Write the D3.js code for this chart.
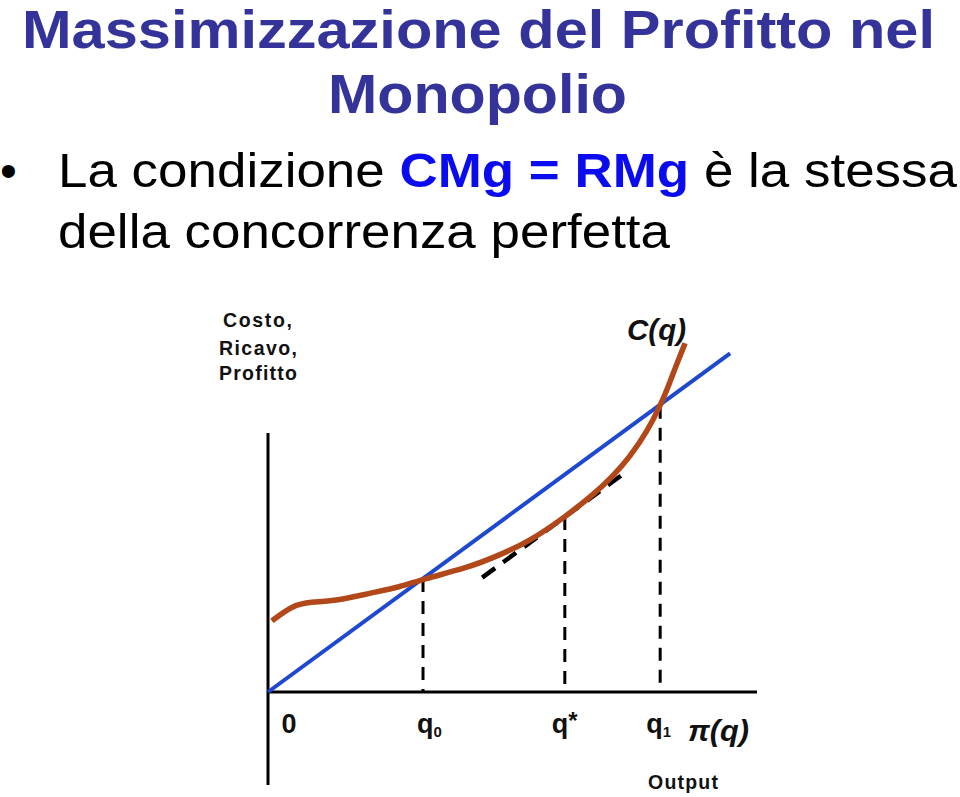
<!DOCTYPE html>
<html>
<head>
<meta charset="utf-8">
<script src="https://cdn.jsdelivr.net/npm/d3@7"></script>
<style>
  html, body { margin: 0; padding: 0; background: #ffffff; }
  svg { display: block; }
</style>
</head>
<body>
<div id="chart"></div>
<script>
// ---------- data ----------
const titleLines = ["Massimizzazione del Profitto nel", "Monopolio"];
const bulletParts = ["La condizione ", "CMg = RMg", " è la stessa"];
const bulletLine2 = "della concorrenza perfetta";
const yAxisLabel = ["Costo,", "Ricavo,", "Profitto"];

// cost curve C(q)
const costQ = [0.08, 0.51, 0.86, 1.41, 2.09, 2.70, 3.17, 4.07, 4.74, 5.36, 6.07, 6.65, 7.06, 7.40, 7.75, 8.02, 8.18, 8.36, 8.53];
const costC = [2.02, 2.47, 2.56, 2.59, 2.81, 2.98, 3.21, 3.52, 3.89, 4.29, 4.97, 5.60, 6.14, 6.68, 7.39, 8.13, 8.66, 9.32, 9.91];
// revenue line R(q)
const revQ = [0.0, 9.45];
const revR = [0.0, 9.62];
// tangent to cost at q*
const tanQ = [4.38, 7.36];
const tanV = [3.25, 6.29];
// marked quantities
const markNames = ["q0", "q*", "q1"];
const markQ = [3.17, 6.07, 8.02];
const markTop = [3.21, 4.97, 8.13];

// ---------- drawing ----------
const W = 960, H = 797;
const svg = d3.select("#chart").append("svg").attr("width", W).attr("height", H);

const x = d3.scaleLinear().domain([0, 10]).range([268, 757]);
const y = d3.scaleLinear().domain([0, 10]).range([692, 340]);

const narrow = "'Liberation Sans Narrow', 'Arial Narrow', 'Liberation Sans', Arial, sans-serif";
const sans = "'Liberation Sans', Arial, Helvetica, sans-serif";

// title
svg.append("text").attr("x", 22).attr("y", 48)
  .attr("font-family", narrow).attr("font-weight", "bold").attr("font-size", 54)
  .attr("fill", "#333399").attr("textLength", 913).attr("lengthAdjust", "spacingAndGlyphs")
  .text(titleLines[0]);
svg.append("text").attr("x", 328).attr("y", 113)
  .attr("font-family", narrow).attr("font-weight", "bold").attr("font-size", 56)
  .attr("fill", "#333399").attr("textLength", 299).attr("lengthAdjust", "spacingAndGlyphs")
  .text(titleLines[1]);

// bullet
svg.append("text").attr("x", 0).attr("y", 187)
  .attr("font-family", sans).attr("font-size", 48).attr("fill", "#000")
  .text("•");
const b1 = svg.append("text").attr("x", 58).attr("y", 187)
  .attr("font-family", narrow).attr("font-size", 49).attr("fill", "#000")
  .attr("textLength", 899).attr("lengthAdjust", "spacingAndGlyphs");
b1.append("tspan").text(bulletParts[0]);
b1.append("tspan").attr("font-weight", "bold").attr("fill", "#0b0bf0").text(bulletParts[1]);
b1.append("tspan").text(bulletParts[2]);
svg.append("text").attr("x", 58).attr("y", 248)
  .attr("font-family", narrow).attr("font-size", 49).attr("fill", "#000")
  .attr("textLength", 612).attr("lengthAdjust", "spacingAndGlyphs")
  .text(bulletLine2);

// y axis label
const ylX = [223, 219, 219];
const ylY = [327, 355, 380];
const ylW = [69, 78, 78];
yAxisLabel.forEach((t, i) => {
  svg.append("text").attr("x", ylX[i]).attr("y", ylY[i])
    .attr("font-family", sans).attr("font-weight", "bold").attr("font-size", 19.5).attr("fill", "#111")
    .attr("textLength", ylW[i]).attr("lengthAdjust", "spacing")
    .text(t);
});

// axes
svg.append("line").attr("x1", x(0)).attr("x2", x(0)).attr("y1", y(7.36)).attr("y2", y(-2.64))
  .attr("stroke", "#000").attr("stroke-width", 3);
svg.append("line").attr("x1", x(0)).attr("x2", x(10)).attr("y1", y(0)).attr("y2", y(0))
  .attr("stroke", "#000").attr("stroke-width", 3);

// vertical dashed lines
svg.selectAll("line.mark").data(markQ).join("line").attr("class", "mark")
  .attr("x1", d => x(d)).attr("x2", d => x(d))
  .attr("y1", (d, i) => y(markTop[i])).attr("y2", y(0))
  .attr("stroke", "#000").attr("stroke-width", 3).attr("stroke-dasharray", "13,9");

// tangent dashed line
svg.append("line").attr("x1", x(tanQ[0])).attr("y1", y(tanV[0]))
  .attr("x2", x(tanQ[1])).attr("y2", y(tanV[1]))
  .attr("stroke", "#000").attr("stroke-width", 4.5).attr("stroke-dasharray", "16,10");

// revenue line
svg.append("path").datum(revQ.map((q, i) => [q, revR[i]]))
  .attr("d", d3.line().x(d => x(d[0])).y(d => y(d[1])))
  .attr("fill", "none").attr("stroke", "#1f48d0").attr("stroke-width", 4);

// cost curve
svg.append("path").datum(costQ.map((q, i) => [q, costC[i]]))
  .attr("d", d3.line().curve(d3.curveBasis).x(d => x(d[0])).y(d => y(d[1])))
  .attr("fill", "none").attr("stroke", "#b2481a").attr("stroke-width", 5.5).attr("stroke-linecap", "butt");

// labels
svg.append("text").attr("x", 627).attr("y", 340)
  .attr("font-family", sans).attr("font-weight", "bold").attr("font-style", "italic")
  .attr("font-size", 30).attr("fill", "#111")
  .attr("textLength", 59).attr("lengthAdjust", "spacingAndGlyphs").text("C(q)");

const lblY = 733;
svg.append("text").attr("x", x(0) + 21).attr("y", lblY).attr("text-anchor", "middle")
  .attr("font-family", sans).attr("font-weight", "bold").attr("font-size", 27).attr("fill", "#111").text("0");

function qLabel(xpos, sub, star) {
  const t = svg.append("text").attr("x", xpos).attr("y", lblY)
    .attr("font-family", sans).attr("font-weight", "bold").attr("font-size", 27).attr("fill", "#111");
  t.append("tspan").text("q");
  if (star) t.append("tspan").attr("dy", -4).attr("font-size", 24).text("*");
  if (sub) t.append("tspan").attr("dy", 4).attr("font-size", 15).text(sub);
}
qLabel(x(markQ[0]) - 6, "0", false);
qLabel(x(markQ[1]) - 13, null, true);
qLabel(x(markQ[2]) - 14, "1", false);

svg.append("text").attr("x", 688).attr("y", 741)
  .attr("font-family", sans).attr("font-weight", "bold").attr("font-style", "italic")
  .attr("font-size", 30).attr("fill", "#111")
  .attr("textLength", 61).attr("lengthAdjust", "spacingAndGlyphs").text("π(q)");

svg.append("text").attr("x", 648).attr("y", 789)
  .attr("font-family", sans).attr("font-weight", "bold").attr("font-size", 19.5).attr("fill", "#111")
  .attr("textLength", 70).attr("lengthAdjust", "spacing").text("Output");
</script>
</body>
</html>
